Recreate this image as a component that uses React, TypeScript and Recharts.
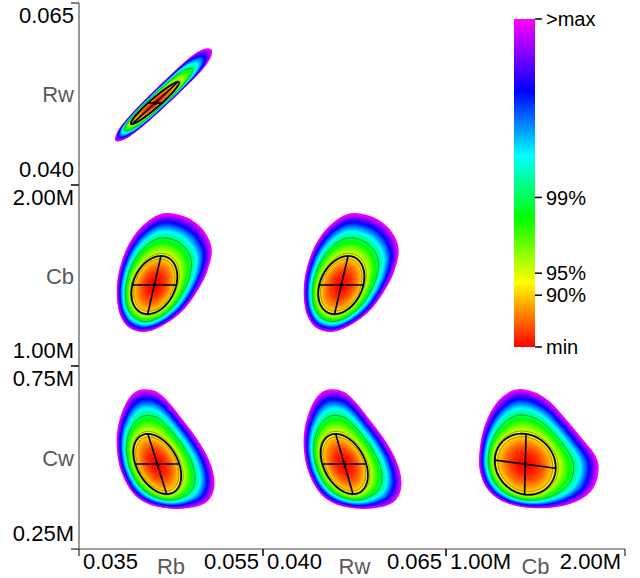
import React from 'react';
import { ScatterChart, Scatter, XAxis, YAxis, BarChart, Bar } from 'recharts';

type Pt = { x: number; y: number };
type Pair = [number, number];

// Plotted parameter ranges
const RANGE_RB: Pair = [0.035, 0.055];
const RANGE_RW: Pair = [0.04, 0.065];
const RANGE_CB: Pair = [1.0e6, 2.0e6];
const RANGE_CW: Pair = [0.25e6, 0.75e6];

// Colour scale (position on the bar -> colour)
const CMAP_POS = [0, 0.196, 0.393, 0.584, 0.78, 1];
const CMAP_COL = ['#ff0000', '#ffff00', '#00ff00', '#00ffff', '#0000ff', '#ff00ff'];
const LEVEL_POS = [0, 0.158, 0.225, 0.456, 1];
const LEVEL_LABELS = ['min', '90%', '95%', '99%', '>max'];
// confidence levels drawn as thin contour lines, and the level of the linearised ellipse
const CONTOUR_LEVELS = [0.158, 0.225, 0.456];
const ELLIPSE_LEVEL = 0.194;

// Outer (>max) boundary of each confidence region, best fit and ellipse half-axis end points
const rbRwEdge: Pair[] = [
  [0.03896, 0.04605], [0.03988, 0.04622], [0.04109, 0.04721], [0.04276, 0.04896], [0.04476, 0.05128],
  [0.04672, 0.05364], [0.04824, 0.05559], [0.04911, 0.05702], [0.04944, 0.05798], [0.04937, 0.05865],
  [0.04883, 0.05876], [0.04806, 0.05841], [0.04689, 0.05736], [0.04528, 0.05552], [0.04333, 0.05315],
  [0.04141, 0.05073], [0.03996, 0.04869], [0.03913, 0.04721],
];
const rbRwBest: Pair = [0.04326, 0.05126];
const rbRwAxes: Pair[] = [[0.04402, 0.05126], [0.04576, 0.05415]];

const rbCbEdge: Pair[] = [
  [0.04416, 1843600], [0.04671, 1821500], [0.04851, 1751400], [0.04942, 1650300], [0.04906, 1539800],
  [0.04815, 1438100], [0.04652, 1318800], [0.04453, 1235900], [0.04236, 1189500], [0.04054, 1208300],
  [0.03946, 1281800], [0.0391, 1401600], [0.03938, 1530400], [0.04036, 1668500], [0.04199, 1779000],
];
const rbCbBest: Pair = [0.04319, 1447500];
const rbCbAxes: Pair[] = [[0.04558, 1447500], [0.04391, 1607700]];

const rwCbEdge: Pair[] = [
  [0.05192, 1843600], [0.05512, 1821500], [0.05739, 1751400], [0.05853, 1650300], [0.05807, 1539800],
  [0.05694, 1438100], [0.05489, 1318800], [0.05239, 1235900], [0.04965, 1189500], [0.04737, 1208300],
  [0.04601, 1281800], [0.04556, 1401600], [0.04591, 1530400], [0.04714, 1668500], [0.04919, 1779000],
];
const rwCbBest: Pair = [0.0507, 1447500];
const rwCbAxes: Pair[] = [[0.05371, 1447500], [0.05162, 1607700]];

const rbCwEdge: Pair[] = [
  [0.04199, 686300], [0.04345, 679800], [0.04471, 652500], [0.04616, 607100], [0.04779, 552500],
  [0.04906, 497800], [0.04967, 447600], [0.0496, 406600], [0.0487, 374900], [0.04671, 361200],
  [0.04453, 361200], [0.04236, 374900], [0.04073, 406600], [0.03953, 465900], [0.0391, 529500],
  [0.03927, 588800], [0.04, 643500], [0.0409, 675400],
];
const rbCwBest: Pair = [0.04351, 482300];
const rbCwAxes: Pair[] = [[0.0459, 482300], [0.04453, 400300]];

const rwCwEdge: Pair[] = [
  [0.04919, 686300], [0.05102, 679800], [0.05261, 652500], [0.05444, 607100], [0.05649, 552500],
  [0.05807, 497800], [0.05885, 447600], [0.05876, 406600], [0.05762, 374900], [0.05512, 361200],
  [0.05239, 361200], [0.04966, 374900], [0.04761, 406600], [0.04611, 465900], [0.04556, 529500],
  [0.04578, 588800], [0.04669, 643500], [0.04783, 675400],
];
const rwCwBest: Pair = [0.05111, 482300];
const rwCwAxes: Pair[] = [[0.05411, 482300], [0.05229, 400300]];

const cbCwEdge: Pair[] = [
  [1395000, 686300], [1487700, 679800], [1581000, 652500], [1674400, 602500], [1767100, 547800],
  [1832500, 506900], [1853100, 470500], [1832500, 424900], [1776600, 392900], [1674400, 370300],
  [1543600, 361200], [1413400, 365600], [1301700, 383900], [1227400, 415900], [1190000, 461200],
  [1186000, 511500], [1208400, 575200], [1255300, 629800], [1320100, 668000],
];
const cbCwBest: Pair = [1443000, 481700];
const cbCwAxes: Pair[] = [[1612900, 470500], [1447000, 564200]];

// Grid layout of the corner plot (pixel edges of columns and rows)
const W = 640;
const H = 578;
const COL_X = [79, 263, 446, 625];
const ROW_Y = [3, 185, 366, 549];
const Y_AXIS_W = 79;
const X_AXIS_H = 29;

const fmtSmall = (v: number) => v.toFixed(3);
const fmtMega = (v: number) => (v / 1e6).toFixed(2) + 'M';

interface PanelDef {
  edge: Pair[]; best: Pair; axes: Pair[];
  xr: Pair; yr: Pair; xName: string; yName: string;
  xFmt: (v: number) => string; yFmt: (v: number) => string;
  col: number; row: number;
}

const PANELS: PanelDef[] = [
  { edge: rbRwEdge, best: rbRwBest, axes: rbRwAxes, xr: RANGE_RB, yr: RANGE_RW, xName: 'Rb', yName: 'Rw', xFmt: fmtSmall, yFmt: fmtSmall, col: 0, row: 0 },
  { edge: rbCbEdge, best: rbCbBest, axes: rbCbAxes, xr: RANGE_RB, yr: RANGE_CB, xName: 'Rb', yName: 'Cb', xFmt: fmtSmall, yFmt: fmtMega, col: 0, row: 1 },
  { edge: rwCbEdge, best: rwCbBest, axes: rwCbAxes, xr: RANGE_RW, yr: RANGE_CB, xName: 'Rw', yName: 'Cb', xFmt: fmtSmall, yFmt: fmtMega, col: 1, row: 1 },
  { edge: rbCwEdge, best: rbCwBest, axes: rbCwAxes, xr: RANGE_RB, yr: RANGE_CW, xName: 'Rb', yName: 'Cw', xFmt: fmtSmall, yFmt: fmtMega, col: 0, row: 2 },
  { edge: rwCwEdge, best: rwCwBest, axes: rwCwAxes, xr: RANGE_RW, yr: RANGE_CW, xName: 'Rw', yName: 'Cw', xFmt: fmtSmall, yFmt: fmtMega, col: 1, row: 2 },
  { edge: cbCwEdge, best: cbCwBest, axes: cbCwAxes, xr: RANGE_CB, yr: RANGE_CW, xName: 'Cb', yName: 'Cw', xFmt: fmtMega, yFmt: fmtMega, col: 2, row: 2 },
];

// ---------- colour helpers ----------
const hexRgb = (h: string) => [parseInt(h.slice(1, 3), 16), parseInt(h.slice(3, 5), 16), parseInt(h.slice(5, 7), 16)];
const CMAP_RGB = CMAP_COL.map(hexRgb);
function cmap(t: number): string {
  const v = Math.max(0, Math.min(1, t));
  let i = 0;
  while (i < CMAP_POS.length - 2 && v > CMAP_POS[i + 1]) i++;
  const f = (v - CMAP_POS[i]) / (CMAP_POS[i + 1] - CMAP_POS[i]);
  const a = CMAP_RGB[i], b = CMAP_RGB[i + 1];
  const c = a.map((x, k) => Math.round(x + (b[k] - x) * f));
  return `rgb(${c[0]},${c[1]},${c[2]})`;
}

// ---------- geometry helpers (pixel space) ----------
function smoothClosed(p: Pt[], steps: number): Pt[] {
  const n = p.length;
  const out: Pt[] = [];
  for (let i = 0; i < n; i++) {
    const p0 = p[(i - 1 + n) % n], p1 = p[i], p2 = p[(i + 1) % n], p3 = p[(i + 2) % n];
    for (let k = 0; k < steps; k++) {
      const t = k / steps, t2 = t * t, t3 = t2 * t;
      const f = (a: number, b: number, c: number, d: number) =>
        0.5 * (2 * b + (-a + c) * t + (2 * a - 5 * b + 4 * c - d) * t2 + (-a + 3 * b - 3 * c + d) * t3);
      out.push({ x: f(p0.x, p1.x, p2.x, p3.x), y: f(p0.y, p1.y, p2.y, p3.y) });
    }
  }
  return out;
}

function rayDist(c: Pt, dx: number, dy: number, poly: Pt[]): number {
  let best = 0;
  const n = poly.length;
  for (let i = 0; i < n; i++) {
    const a = poly[i], b = poly[(i + 1) % n];
    const ex = b.x - a.x, ey = b.y - a.y;
    const den = dx * ey - dy * ex;
    if (Math.abs(den) < 1e-12) continue;
    const ax = a.x - c.x, ay = a.y - c.y;
    const r = (ax * ey - ay * ex) / den;
    const w = (ax * dy - ay * dx) / den;
    if (w >= 0 && w <= 1 && r > best) best = r;
  }
  return best;
}

const pathOf = (pts: Pt[]) =>
  pts.map((p, i) => `${i ? 'L' : 'M'}${p.x.toFixed(2)},${p.y.toFixed(2)}`).join('') + 'Z';

const LAYERS = 64;
const RAYS = 360;

// Draws one confidence region from its projected points:
// boundary vertices, then best fit, then the two ellipse half-axis end points.
function renderRegion(props: any) {
  const pts: Pt[] = props.points;
  const n = pts.length - 3;
  const edge = smoothClosed(pts.slice(0, n), 12);
  const c = pts[n], a = pts[n + 1], b = pts[n + 2];
  const u = { x: a.x - c.x, y: a.y - c.y };
  const v = { x: b.x - c.x, y: b.y - c.y };
  const ell: Pt[] = [];
  for (let k = 0; k < 240; k++) {
    const t = (2 * Math.PI * k) / 240;
    ell.push({ x: c.x + u.x * Math.cos(t) + v.x * Math.sin(t), y: c.y + u.y * Math.cos(t) + v.y * Math.sin(t) });
  }
  const dirs: [number, number][] = [];
  const rOut: number[] = [];
  const rEll: number[] = [];
  for (let j = 0; j < RAYS; j++) {
    const th = (2 * Math.PI * j) / RAYS;
    const dx = Math.cos(th), dy = Math.sin(th);
    dirs.push([dx, dy]);
    rOut.push(rayDist(c, dx, dy, edge));
    rEll.push(rayDist(c, dx, dy, ell));
  }
  const sE = Math.sqrt(ELLIPSE_LEVEL);
  const ring = (s: number): Pt[] =>
    dirs.map(([dx, dy], j) => {
      const r = s <= sE ? (rEll[j] * s) / sE : rEll[j] + ((rOut[j] - rEll[j]) * (s - sE)) / (1 - sE);
      return { x: c.x + r * dx, y: c.y + r * dy };
    });

  const fills = [];
  for (let i = 0; i < LAYERS; i++) {
    const s = 1 - i / LAYERS;
    fills.push(<path key={`f${i}`} d={pathOf(ring(s))} fill={cmap(s * s)} stroke="none" />);
  }
  const lines = CONTOUR_LEVELS.map((t, i) => (
    <path key={`c${i}`} d={pathOf(ring(Math.sqrt(t)))} fill="none" stroke="rgba(30,30,30,0.5)" strokeWidth={0.8} />
  ));
  return (
    <g>
      {fills}
      {lines}
      <path d={pathOf(ell)} fill="none" stroke="#000" strokeWidth={1.8} />
      <line x1={c.x - u.x} y1={c.y - u.y} x2={c.x + u.x} y2={c.y + u.y} stroke="#000" strokeWidth={1.6} />
      <line x1={c.x - v.x} y1={c.y - v.y} x2={c.x + v.x} y2={c.y + v.y} stroke="#000" strokeWidth={1.6} />
      <circle cx={c.x} cy={c.y} r={1.6} fill="#000" />
    </g>
  );
}

const hidePoint = () => <g />;

const xTick = (range: Pair, fmt: (v: number) => string) => (props: any) => {
  const { x, y, payload } = props;
  const atStart = payload.value < (range[0] + range[1]) / 2;
  return (
    <text x={atStart ? x + 4 : x - 4} y={y + 11} textAnchor={atStart ? 'start' : 'end'} fontSize={22} fill="#000">
      {fmt(payload.value)}
    </text>
  );
};

const yTick = (range: Pair, fmt: (v: number) => string) => (props: any) => {
  const { x, y, payload } = props;
  const atTop = payload.value > (range[0] + range[1]) / 2;
  return (
    <text x={x + 5} y={atTop ? y + 20 : y - 8} textAnchor="end" fontSize={22} fill="#000">
      {fmt(payload.value)}
    </text>
  );
};

const xTitle = (name: string) => (props: any) => {
  const vb = props.viewBox;
  return (
    <text x={vb.x + vb.width / 2} y={vb.y + 25} textAnchor="middle" fontSize={22} fill="#595959">
      {name}
    </text>
  );
};

const yTitle = (name: string) => (props: any) => {
  const vb = props.viewBox;
  return (
    <text x={vb.x + vb.width - 5} y={vb.y + vb.height / 2 + 8} textAnchor="end" fontSize={22} fill="#595959">
      {name}
    </text>
  );
};

function PanelChart({ p }: { p: PanelDef }) {
  const L = COL_X[p.col], R = COL_X[p.col + 1], T = ROW_Y[p.row], B = ROW_Y[p.row + 1];
  const showY = p.col === 0;
  const showX = p.row === 2;
  const margin = {
    left: showY ? L - Y_AXIS_W : L,
    right: W - R,
    top: T,
    bottom: showX ? H - B - X_AXIS_H : H - B,
  };
  const pts = [...p.edge, p.best, ...p.axes].map(([x, y]) => ({ x, y }));
  return (
    <div style={{ position: 'absolute', left: 0, top: 0 }}>
      <ScatterChart width={W} height={H} margin={margin}>
        <XAxis
          type="number" dataKey="x" domain={p.xr} ticks={p.xr} interval={0} allowDataOverflow
          hide={!showX} height={X_AXIS_H} tickSize={7}
          axisLine={{ stroke: '#444', strokeWidth: 1.2 }} tickLine={{ stroke: '#000' }}
          tick={xTick(p.xr, p.xFmt)} label={xTitle(p.xName)}
        />
        <YAxis
          type="number" dataKey="y" domain={p.yr} ticks={p.yr} interval={0} allowDataOverflow
          hide={!showY} width={Y_AXIS_W} tickSize={8}
          axisLine={{ stroke: '#999', strokeWidth: 2 }} tickLine={{ stroke: '#000' }}
          tick={yTick(p.yr, p.yFmt)} label={yTitle(p.yName)}
        />
        <Scatter data={pts} shape={hidePoint} line={renderRegion} isAnimationActive={false} />
      </ScatterChart>
    </div>
  );
}

const colorBarData = [{ k: 'scale', v: 1 }];

function ColorBar() {
  const left = 514, right = 535, top = 19, bottom = 347, axisW = 80;
  return (
    <div style={{ position: 'absolute', left: 0, top: 0 }}>
      <BarChart
        width={W} height={H} data={colorBarData} barCategoryGap={0}
        margin={{ left, right: W - right - axisW, top, bottom: H - bottom }}
      >
        <defs>
          <linearGradient id="cmapFill" x1="0" y1="1" x2="0" y2="0">
            {CMAP_POS.map((pos, i) => (
              <stop key={i} offset={pos} stopColor={CMAP_COL[i]} />
            ))}
          </linearGradient>
        </defs>
        <XAxis dataKey="k" hide />
        <YAxis
          orientation="right" type="number" domain={[0, 1]} ticks={LEVEL_POS} interval={0} allowDataOverflow
          width={axisW} axisLine={false} tickSize={7} tickMargin={4}
          tickLine={{ stroke: '#000', strokeWidth: 1.5 }}
          tick={{ fontSize: 20, fill: '#000' }}
          tickFormatter={(val: number) => LEVEL_LABELS[LEVEL_POS.indexOf(val)]}
        />
        <Bar dataKey="v" fill="url(#cmapFill)" isAnimationActive={false} />
      </BarChart>
    </div>
  );
}

export default function App() {
  return (
    <div
      style={{
        position: 'absolute', left: 0, top: 0, width: W, height: H, background: '#fff', overflow: 'hidden',
        fontFamily: "'Liberation Sans', Arial, Helvetica, sans-serif",
      }}
    >
      {PANELS.map((p, i) => (
        <PanelChart key={i} p={p} />
      ))}
      <ColorBar />
    </div>
  );
}
